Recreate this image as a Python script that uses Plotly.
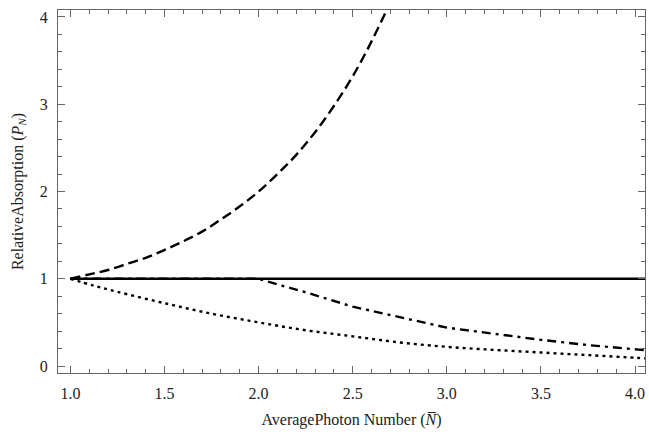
import plotly.graph_objects as go

# Dashed curve (rising)
n_rise = [1.0, 1.1, 1.2, 1.3, 1.4, 1.5, 1.6, 1.7, 1.8, 1.9, 2.0, 2.1, 2.2, 2.3, 2.4, 2.5, 2.6, 2.7]
p_rise = [1.0, 1.05, 1.10, 1.17, 1.24, 1.33, 1.43, 1.54, 1.68, 1.83, 2.0, 2.20, 2.42, 2.68, 2.98, 3.32, 3.72, 4.17]

# Solid line (constant)
n_flat = [1.0, 4.06]
p_flat = [1.0, 1.0]

# Dash-dot curve (flat to 2, then decreasing)
n_dd = [1.0, 2.0, 2.125, 2.25, 2.5, 2.75, 3.0, 3.25, 3.5, 3.75, 4.0, 4.06]
p_dd = [1.0, 1.0, 0.92, 0.845, 0.68, 0.56, 0.44, 0.37, 0.30, 0.24, 0.19, 0.18]

# Dotted curve (decreasing)
n_dot = [1.0, 1.125, 1.25, 1.5, 1.75, 2.0, 2.25, 2.5, 2.75, 3.0, 3.25, 3.5, 3.75, 4.0, 4.06]
p_dot = [1.0, 0.92, 0.85, 0.72, 0.60, 0.50, 0.41, 0.34, 0.27, 0.22, 0.185, 0.155, 0.125, 0.095, 0.088]

x_ticks = [1.0, 1.5, 2.0, 2.5, 3.0, 3.5, 4.0]
x_tick_labels = ["1.0", "1.5", "2.0", "2.5", "3.0", "3.5", "4.0"]
y_ticks = [0, 1, 2, 3, 4]
y_tick_labels = ["0", "1", "2", "3", "4"]

fig = go.Figure()
fig.add_trace(go.Scatter(x=n_flat, y=p_flat, mode="lines",
                         line=dict(color="black", width=2.6)))
fig.add_trace(go.Scatter(x=n_dd, y=p_dd, mode="lines",
                         line=dict(color="black", width=2.4, dash="9px,5px,3px,5px")))
fig.add_trace(go.Scatter(x=n_dot, y=p_dot, mode="lines", line_shape="spline",
                         line=dict(color="black", width=2.4, dash="3px,4px")))
fig.add_trace(go.Scatter(x=n_rise, y=p_rise, mode="lines", line_shape="spline",
                         line=dict(color="black", width=2.4, dash="10px,5px")))

axis_common = dict(
    showgrid=False, zeroline=False, showline=True, linecolor="#666666", linewidth=1,
    mirror="ticks", ticks="inside", ticklen=7, tickcolor="#666666", tickwidth=1,
    tickfont=dict(family="Liberation Serif", size=16, color="#222222"),
    automargin=False, ticklabelstandoff=6,
)

fig.update_xaxes(
    range=[0.934, 4.053], tickvals=x_ticks, ticktext=x_tick_labels,
    minor=dict(ticks="inside", dtick=0.1, tick0=1.0, ticklen=4, tickcolor="#666666", tickwidth=1),
    title=dict(text="AveragePhoton Number (<i>N̅</i>)",
               font=dict(family="Liberation Serif", size=16, color="#222222"), standoff=12),
    **axis_common,
)
fig.update_yaxes(
    range=[-0.08, 4.08], tickvals=y_ticks, ticktext=y_tick_labels,
    minor=dict(ticks="inside", dtick=0.2, tick0=0, ticklen=4, tickcolor="#666666", tickwidth=1),
    title=dict(text="RelativeAbsorption (<i>P</i><sub><i>N</i></sub>)",
               font=dict(family="Liberation Serif", size=16, color="#222222"), standoff=12),
    **axis_common,
)

fig.update_layout(
    width=649, height=437,
    margin=dict(l=58, r=4, t=10, b=64),
    paper_bgcolor="white", plot_bgcolor="white",
    showlegend=False,
)

fig.write_html("out.html", config={"displayModeBar": False},
               post_script="document.body.style.margin='0';document.body.style.overflow='hidden';")
